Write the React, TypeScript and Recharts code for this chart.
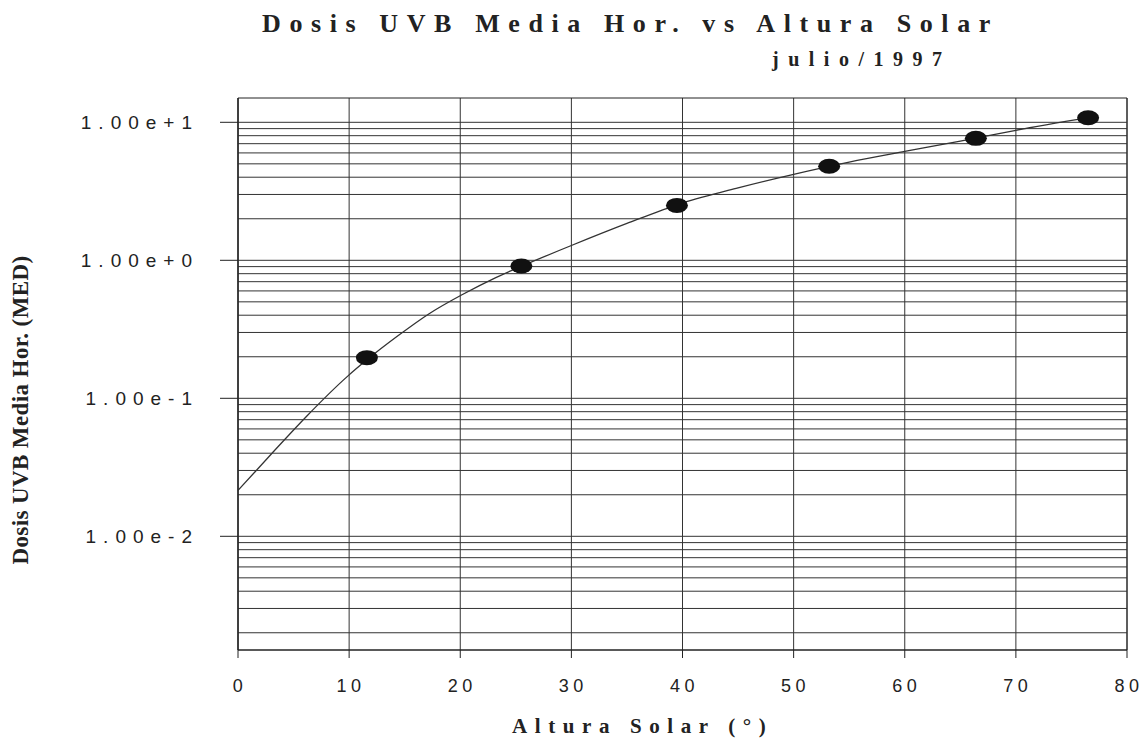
import React from 'react'
import {
  ComposedChart,
  Line,
  Scatter,
  XAxis,
  YAxis,
  CartesianGrid,
  ReferenceLine,
  ReferenceArea,
} from 'recharts'

// fitted curve
const curveX = [0, 3, 6.2, 9.8, 11.6, 14.3, 17.2, 20.2, 23.2, 25.5, 30, 35, 40, 45, 50, 55, 60, 65, 70, 76.5]
const curveY = [0.0215, 0.0395, 0.0745, 0.143, 0.19, 0.28, 0.41, 0.565, 0.75, 0.905, 1.28, 1.85, 2.6, 3.35, 4.2, 5.15, 6.15, 7.3, 8.75, 10.8]

// measured points
const pointX = [11.6, 25.5, 39.5, 53.2, 66.4, 76.5]
const pointY = [0.197, 0.91, 2.5, 4.8, 7.65, 10.8]

const xTicks = [0, 10, 20, 30, 40, 50, 60, 70, 80]
const yTicks = [0.01, 0.1, 1, 10]
const gridValues = [
  0.002, 0.003, 0.004, 0.005, 0.006, 0.007, 0.008, 0.009,
  0.01, 0.02, 0.03, 0.04, 0.05, 0.06, 0.07, 0.08, 0.09,
  0.1, 0.2, 0.3, 0.4, 0.5, 0.6, 0.7, 0.8, 0.9,
  1, 2, 3, 4, 5, 6, 7, 8, 9,
  10,
]

const curveData = curveX.map((x, i) => ({ x, y: curveY[i] }))
const pointData = pointX.map((x, i) => ({ x, y: pointY[i] }))

const sans = 'Arial, "Liberation Sans", sans-serif'
const serif = '"Times New Roman", "Liberation Serif", serif'
const ink = '#222'

const YTick = (props: any) => {
  const { x, y, payload } = props
  return (
    <text x={x} y={y} dy={7} textAnchor="end" fontFamily={sans} fontSize={19} letterSpacing={7} fill={ink}>
      {Number(payload.value).toExponential(2)}
    </text>
  )
}

const XTick = (props: any) => {
  const { x, y, payload } = props
  return (
    <text x={x} y={y} dx={2} dy="0.71em" textAnchor="middle" fontFamily={sans} fontSize={18} letterSpacing={4.5} fill={ink}>
      {payload.value}
    </text>
  )
}

const Dot = (props: any) => {
  const { cx, cy } = props
  return <ellipse cx={cx} cy={cy} rx={11} ry={7.5} fill="#111" />
}

export default function App() {
  return (
    <div style={{ position: 'absolute', left: 0, top: 0, width: 1145, height: 742, background: '#fff' }}>
      <div style={{ position: 'absolute', left: 262, top: 9, fontFamily: serif, fontWeight: 'bold', fontSize: 26, letterSpacing: 8.6, color: ink, whiteSpace: 'nowrap' }}>
        Dosis UVB Media Hor. vs Altura Solar
      </div>
      <div style={{ position: 'absolute', left: 772, top: 48, fontFamily: serif, fontWeight: 'bold', fontSize: 20, letterSpacing: 9.5, color: ink, whiteSpace: 'nowrap' }}>
        julio/1997
      </div>
      <div style={{ position: 'absolute', left: 512, top: 714, fontFamily: serif, fontWeight: 'bold', fontSize: 21, letterSpacing: 7.6, color: ink, whiteSpace: 'nowrap' }}>
        Altura Solar (°)
      </div>
      <div style={{ position: 'absolute', left: 21, top: 410, transform: 'translate(-50%, -50%) rotate(-90deg)', fontFamily: serif, fontWeight: 'bold', fontSize: 23, letterSpacing: 0.4, color: ink, whiteSpace: 'nowrap' }}>
        Dosis UVB Media Hor. (MED)
      </div>
      <ComposedChart width={1145} height={742} margin={{ top: 98, right: 18, bottom: 0, left: 0 }}>
        <CartesianGrid horizontal={false} stroke="#333" strokeWidth={1} />
        <XAxis
          dataKey="x"
          type="number"
          domain={[0, 80]}
          ticks={xTicks}
          height={92}
          tickSize={8}
          tickMargin={21}
          tick={<XTick />}
          axisLine={{ stroke: ink }}
          tickLine={{ stroke: ink }}
        />
        <YAxis
          type="number"
          scale="log"
          domain={[0.0015, 15]}
          allowDataOverflow
          ticks={yTicks}
          width={238}
          tickSize={18}
          tickMargin={21}
          tick={<YTick />}
          axisLine={{ stroke: ink }}
          tickLine={{ stroke: ink }}
        />
        {gridValues.map((v) => (
          <ReferenceLine key={v} y={v} stroke="#333" strokeWidth={1} />
        ))}
        <ReferenceArea x1={0} x2={80} y1={0.0015} y2={15} fill="none" stroke={ink} strokeWidth={1} />
        <Line
          data={curveData}
          dataKey="y"
          type="monotone"
          stroke="#333"
          strokeWidth={1.3}
          dot={false}
          isAnimationActive={false}
        />
        <Scatter data={pointData} dataKey="y" shape={<Dot />} isAnimationActive={false} />
      </ComposedChart>
    </div>
  )
}
